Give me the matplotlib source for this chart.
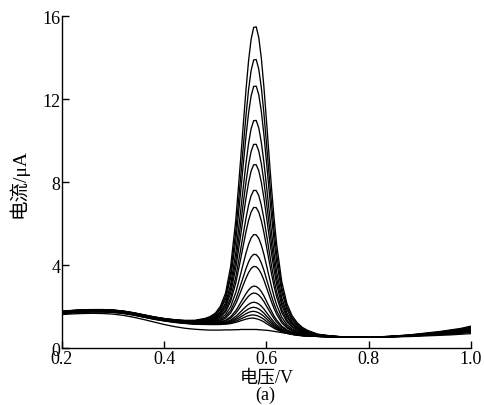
import numpy as np
import matplotlib
matplotlib.use("Agg")
import matplotlib.pyplot as plt

plt.rcParams['font.family'] = ['Liberation Serif', 'Noto Sans CJK SC']
plt.rcParams['mathtext.fontset'] = 'stix'

# Potential grid (V)
voltage = [0.20, 0.22, 0.24, 0.26, 0.28, 0.30, 0.32, 0.34, 0.36, 0.38, 0.40, 0.42, 0.44, 0.46, 0.48,
           0.49, 0.50, 0.51, 0.52, 0.53, 0.54,
           0.545, 0.55, 0.555, 0.56, 0.565, 0.57, 0.575, 0.58, 0.585, 0.59, 0.595, 0.60, 0.605, 0.61, 0.615, 0.62,
           0.63, 0.64, 0.65, 0.66, 0.67, 0.68,
           0.70, 0.72, 0.74, 0.76, 0.78, 0.80, 0.82, 0.84, 0.86, 0.88, 0.90, 0.92, 0.94, 0.96, 0.98, 1.00]

# Background current common to the sample curves (uA)
baseline = [1.72, 1.76, 1.79, 1.80, 1.80, 1.78, 1.73, 1.65, 1.55, 1.45, 1.37, 1.30, 1.25, 1.21, 1.19,
            1.18, 1.17, 1.16, 1.15, 1.13, 1.11,
            1.09, 1.08, 1.06, 1.04, 1.02, 1.00, 0.98, 0.95, 0.93, 0.91, 0.89, 0.86, 0.84, 0.82, 0.79, 0.77,
            0.72, 0.68, 0.64, 0.61, 0.59, 0.58,
            0.56, 0.55, 0.54, 0.53, 0.53, 0.53, 0.54, 0.55, 0.57, 0.59, 0.62, 0.65, 0.68, 0.72, 0.76, 0.82]

# Normalised peak shape
peak_shape = [0, 0, 0, 0, 0, 0, 0, 0, 0, 0, 0, 0.001, 0.002, 0.005, 0.013,
              0.020, 0.032, 0.056, 0.100, 0.190, 0.345,
              0.451, 0.559, 0.672, 0.782, 0.879, 0.952, 0.993, 0.997, 0.963, 0.896, 0.803, 0.694, 0.581, 0.471, 0.373, 0.289,
              0.169, 0.100, 0.063, 0.042, 0.028, 0.019,
              0.008, 0.003, 0.001, 0, 0, 0, 0, 0, 0, 0, 0, 0, 0, 0, 0, 0]

# Blank curve (uA)
blank = [1.62, 1.65, 1.67, 1.68, 1.67, 1.64, 1.58, 1.49, 1.38, 1.26, 1.14, 1.04, 0.96, 0.91, 0.88,
         0.87, 0.87, 0.87, 0.88, 0.88, 0.89,
         0.89, 0.90, 0.90, 0.90, 0.90, 0.90, 0.90, 0.90, 0.89, 0.88, 0.87, 0.86, 0.85, 0.83, 0.81, 0.79,
         0.75, 0.71, 0.67, 0.64, 0.61, 0.59,
         0.57, 0.55, 0.54, 0.53, 0.53, 0.53, 0.53, 0.54, 0.55, 0.56, 0.58, 0.60, 0.62, 0.64, 0.67, 0.70]

# Peak currents of the sample curves (uA)
peak_current = [15.45, 13.88, 12.60, 10.95, 9.80, 8.82, 7.58, 6.76, 5.45, 4.50, 3.92, 2.97, 2.64, 2.20, 1.96, 1.77, 1.60, 1.45]
# Current at 1.0 V for each sample curve (uA)
end_current = [1.06, 1.02, 0.99, 0.96, 0.94, 0.92, 0.90, 0.88, 0.86, 0.85, 0.84, 0.83, 0.82, 0.81, 0.80, 0.79, 0.78, 0.77]
# Offset of each curve in the 0.2-0.5 V region (uA)
start_offset = [0.06, 0.05, 0.05, 0.04, 0.04, 0.03, 0.03, 0.02, 0.02, 0.01, 0.0, 0.0, -0.01, -0.02, -0.03, -0.04, -0.05, -0.06]

v = np.array(voltage)
base = np.array(baseline)
shape = np.array(peak_shape)
ipk = int(np.argmax(shape))
tail_w = np.where(v > 0.7, np.clip(base - 0.53, 0, None) / (base[-1] - 0.53), 0.0)
left_w = np.clip((0.70 - v) / 0.24, 0, 1)

fig = plt.figure(figsize=(4.84, 4.06), dpi=100)
ax = fig.add_axes([0.128, 0.140, 0.845, 0.818])

lw = 0.95
for pk, ec, so in zip(peak_current, end_current, start_offset):
    amp = (pk - base[ipk]) / shape[ipk]
    y = base + amp * shape + (ec - base[-1]) * tail_w + so * left_w
    ax.plot(v, y, color='black', lw=lw)
ax.plot(v, blank, color='black', lw=lw)

ax.set_xlim(0.2, 1.0)
ax.set_ylim(0, 16)
ax.set_xticks([0.2, 0.4, 0.6, 0.8, 1.0])
ax.set_xticklabels(['0.2', '0.4', '0.6', '0.8', '1.0'])
ax.set_yticks([0, 4, 8, 12, 16])
ax.spines['top'].set_visible(False)
ax.spines['right'].set_visible(False)
for s in ['left', 'bottom']:
    ax.spines[s].set_linewidth(1.0)
ax.tick_params(direction='in', length=5, width=1.0, labelsize=13, pad=1)
ax.set_xlabel('电压/V', fontsize=13, labelpad=2)
ax.set_ylabel('电流/μA', fontsize=14, labelpad=10)
fig.text(0.548, 0.004, '(a)', fontsize=13, ha='center', va='bottom')

fig.savefig('out.png', dpi=100)
